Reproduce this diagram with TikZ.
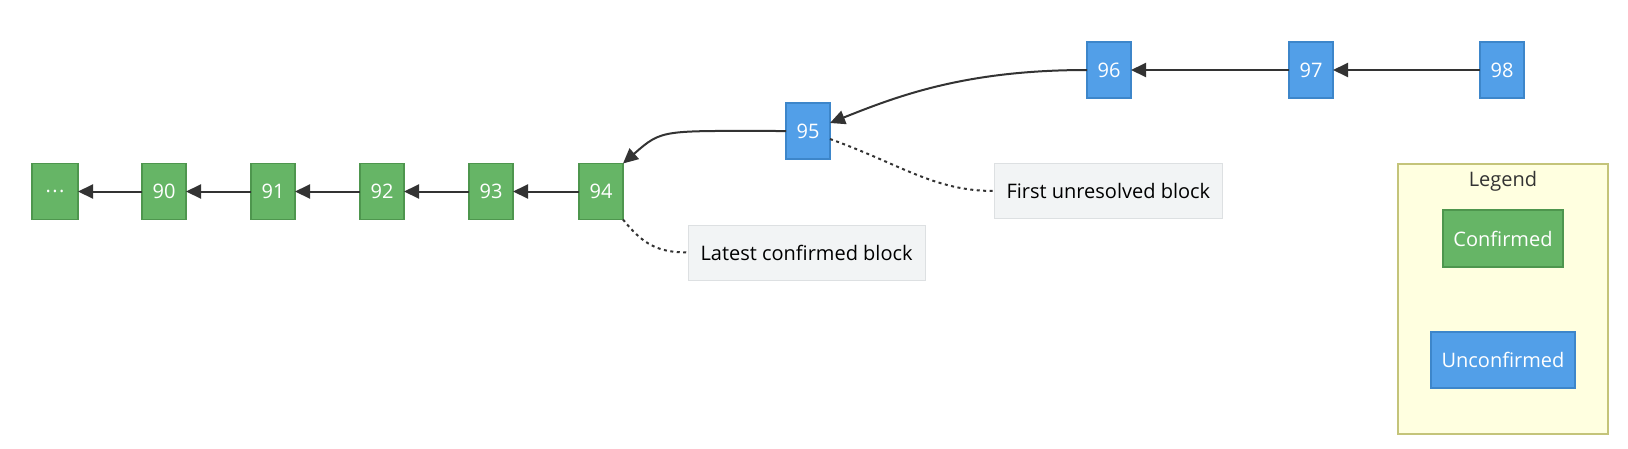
\documentclass[tikz,border=0pt]{standalone}
\usepackage{fontspec}
\setmainfont{Open Sans}
\usetikzlibrary{positioning,arrows.meta}

\definecolor{confFill}{HTML}{66B566}
\definecolor{confLine}{HTML}{4E964E}
\definecolor{unconfFill}{HTML}{529FE8}
\definecolor{unconfLine}{HTML}{3D86CA}
\definecolor{noteFill}{HTML}{F2F4F5}
\definecolor{noteLine}{HTML}{DDE0E2}
\definecolor{legFill}{HTML}{FFFFE0}
\definecolor{legLine}{HTML}{C4C47A}
\definecolor{edgeGray}{HTML}{333333}

\begin{document}
\begin{tikzpicture}[x=1pt, y=-1pt,
      every node/.style={font=\fontsize{20}{24}\selectfont, align=center, inner sep=3pt},
      block/.style={draw, line width=1.6pt, text=white, outer sep=0pt,
                  minimum height=56pt, minimum width=44pt},
      conf/.style={block, fill=confFill, draw=confLine},
      unconf/.style={block, fill=unconfFill, draw=unconfLine},
      note/.style={draw=noteLine, line width=1pt, fill=noteFill, text=black,
                  outer sep=0pt, minimum height=55pt, inner xsep=12.5pt},
      arrow/.style={-{Triangle[length=15pt, width=14pt]}, line width=2pt, draw=edgeGray},
      link/.style={line width=2pt, draw=edgeGray, dash pattern=on 3pt off 3.5pt},
  ]
    \useasboundingbox (0,0) rectangle (1628,448);

    % legend frame first, so it sits behind
    \node[draw=legLine, line width=1.2pt, fill=legFill,
          minimum width=210pt, minimum height=270pt] (legend) at (1503,299) {};
    \node[text=edgeGray, below=5pt of legend.north] (legtitle) {Legend};
    \node[conf, minimum width=120pt, minimum height=57pt] (legconf) at (1503,238.5) {Confirmed};
    \node[unconf, minimum width=144pt, minimum height=56pt] (legunconf) at (1503,360) {Unconfirmed};

    % confirmed chain
    \node[conf, minimum width=46pt] (dots) at (55,191.5) {.\kern1.5pt.\kern1.5pt.};
    \node[conf, right=64pt of dots] (b90) {90};
    \node[conf, right=65pt of b90] (b91) {91};
    \node[conf, right=65pt of b91] (b92) {92};
    \node[conf, right=65pt of b92] (b93) {93};
    \node[conf, right=66pt of b93] (b94) {94};

    % unconfirmed chain
    \node[unconf, right=163pt of b94, yshift=60.5pt] (b95) {95};
    \node[unconf, right=257pt of b95, yshift=61pt] (b96) {96};
    \node[unconf, right=158pt of b96] (b97) {97};
    \node[unconf, right=147pt of b97] (b98) {98};

    % notes
    \node[note, right=65pt of b94, yshift=-61pt] (latest) {Latest confirmed block};
    \node[note, right=164pt of b95, yshift=-60pt] (firstun) {First unresolved block};

    \draw[arrow] (b90) -- (dots);
    \draw[arrow] (b91) -- (b90);
    \draw[arrow] (b92) -- (b91);
    \draw[arrow] (b93) -- (b92);
    \draw[arrow] (b94) -- (b93);
    \draw[arrow] (b95.west) .. controls +(-125,0) and +(40,-35) .. (b94.north east);
    \draw[arrow] (b96.west) .. controls +(-120,0) and +(70,-28) .. (b95.20);
    \draw[arrow] (b97) -- (b96);
    \draw[arrow] (b98) -- (b97);

    \draw[link] (b95.-20) .. controls +(70,25) and +(-60,0) .. (firstun.west);
    \draw[link] (b94.south east) .. controls +(20,25) and +(-30,0) .. (latest.west);
  \end{tikzpicture}
\end{document}
